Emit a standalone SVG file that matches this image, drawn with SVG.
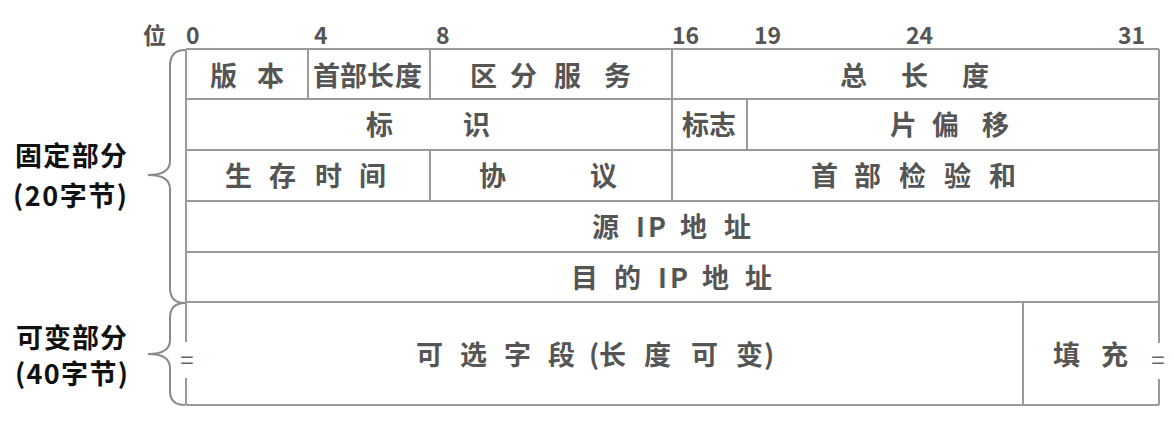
<svg xmlns="http://www.w3.org/2000/svg" width="1173" height="440" viewBox="0 0 1173 440">
<style>
.g{stroke:#9a9a9a;stroke-width:2;fill:none}
.b{stroke:#8a8a8a;stroke-width:2;fill:none}
.t{font-family:"Noto Sans CJK SC","Noto Sans",sans-serif;font-weight:bold;font-size:27px;fill:#555}
.n{font-family:"Noto Sans CJK SC","Noto Sans",sans-serif;font-weight:bold;font-size:23px;fill:#555}
.l{font-family:"Noto Sans CJK SC","Noto Sans",sans-serif;font-weight:bold;font-size:27px;fill:#111}
.e{font-family:"Noto Sans CJK SC","Noto Sans",sans-serif;font-size:24px;fill:#666;text-anchor:middle}
</style>
<rect width="1173" height="440" fill="#fff"/>
<g id="bit-scale">
<text class="n" x="143" y="44">位</text>
<text class="n" x="186" y="44">0</text>
<text class="n" x="314" y="44">4</text>
<text class="n" x="436" y="44">8</text>
<text class="n" x="672" y="44">16</text>
<text class="n" x="754" y="44">19</text>
<text class="n" x="906" y="44">24</text>
<text class="n" x="1118" y="44">31</text>
</g>
<g id="grid">
<path class="g" d="M186,49H1159M186,99H1159M186,150H1159M186,201H1159M186,252H1159M186,302H1159M186,405H1159"/>
<path class="g" d="M186,49V302M1159,49V302M308,49V99M430,49V99M672,49V99M672,99V150M747,99V150M430,150V201M672,150V201M1023,302V405"/>
<path class="g" d="M186,302V342M186,378V405M1159,302V343M1159,379V405"/>
</g>
<g id="connectors">
<path class="b" d="M185,50Q170,50 170,66L170,161Q170,175 148,175Q170,175 170,189L170,288Q170,303 185,303"/>
<path class="b" d="M185,303Q170,303 170,318L170,340Q170,354 148,354Q170,354 170,368L170,391Q170,405 185,405"/>
</g>
<g id="label-fixed">
<text class="l" x="15" y="166" textLength="112" lengthAdjust="spacing">固定部分</text>
<text class="l" x="13" y="206" textLength="114" lengthAdjust="spacing">(20字节)</text>
</g>
<g id="label-variable">
<text class="l" x="16" y="348" textLength="111" lengthAdjust="spacing">可变部分</text>
<text class="l" x="15" y="384" textLength="113" lengthAdjust="spacing">(40字节)</text>
</g>
<g id="version"><text class="t" x="210 236 257" y="86">版 本</text></g>
<g id="ihl"><text class="t" x="313 340 367 395" y="86">首部长度</text></g>
<g id="dsfield"><text class="t" x="470 497 510 540 554 585 604" y="86">区 分 服 务</text></g>
<g id="total-length"><text class="t" x="840 870 901 930 962" y="86">总 长 度</text></g>
<g id="identification"><text class="t" x="366 400 463" y="135">标 识</text></g>
<g id="flags"><text class="t" x="682 709" y="135">标志</text></g>
<g id="fragment-offset"><text class="t" x="890 920 932 960 982" y="135">片 偏 移</text></g>
<g id="ttl"><text class="t" x="225 252 269 298 315 343 359" y="186">生 存 时 间</text></g>
<g id="protocol"><text class="t" x="479 520 590" y="186">协 议</text></g>
<g id="checksum"><text class="t" x="811 840 854 883 899 928 944 973 989" y="186">首 部 检 验 和</text></g>
<g id="src-ip"><text class="t" x="592 622 636 648 668 680 709 724" y="237">源 IP 地 址</text></g>
<g id="dst-ip"><text class="t" x="571 600 614 643 658 670 690 702 731 745" y="288">目 的 IP 地 址</text></g>
<g id="options"><text class="t" x="416 445 460 489 504 533 548 577 589 599 628 644 673 691 720 736 764" y="365">可 选 字 段 (长 度 可 变)</text></g>
<g id="padding"><text class="t" x="1053 1082 1101" y="365">填 充</text></g>
<g id="marks">
<text class="e" x="187" y="369">=</text>
<text class="e" x="1158" y="369">=</text>
</g>
</svg>
